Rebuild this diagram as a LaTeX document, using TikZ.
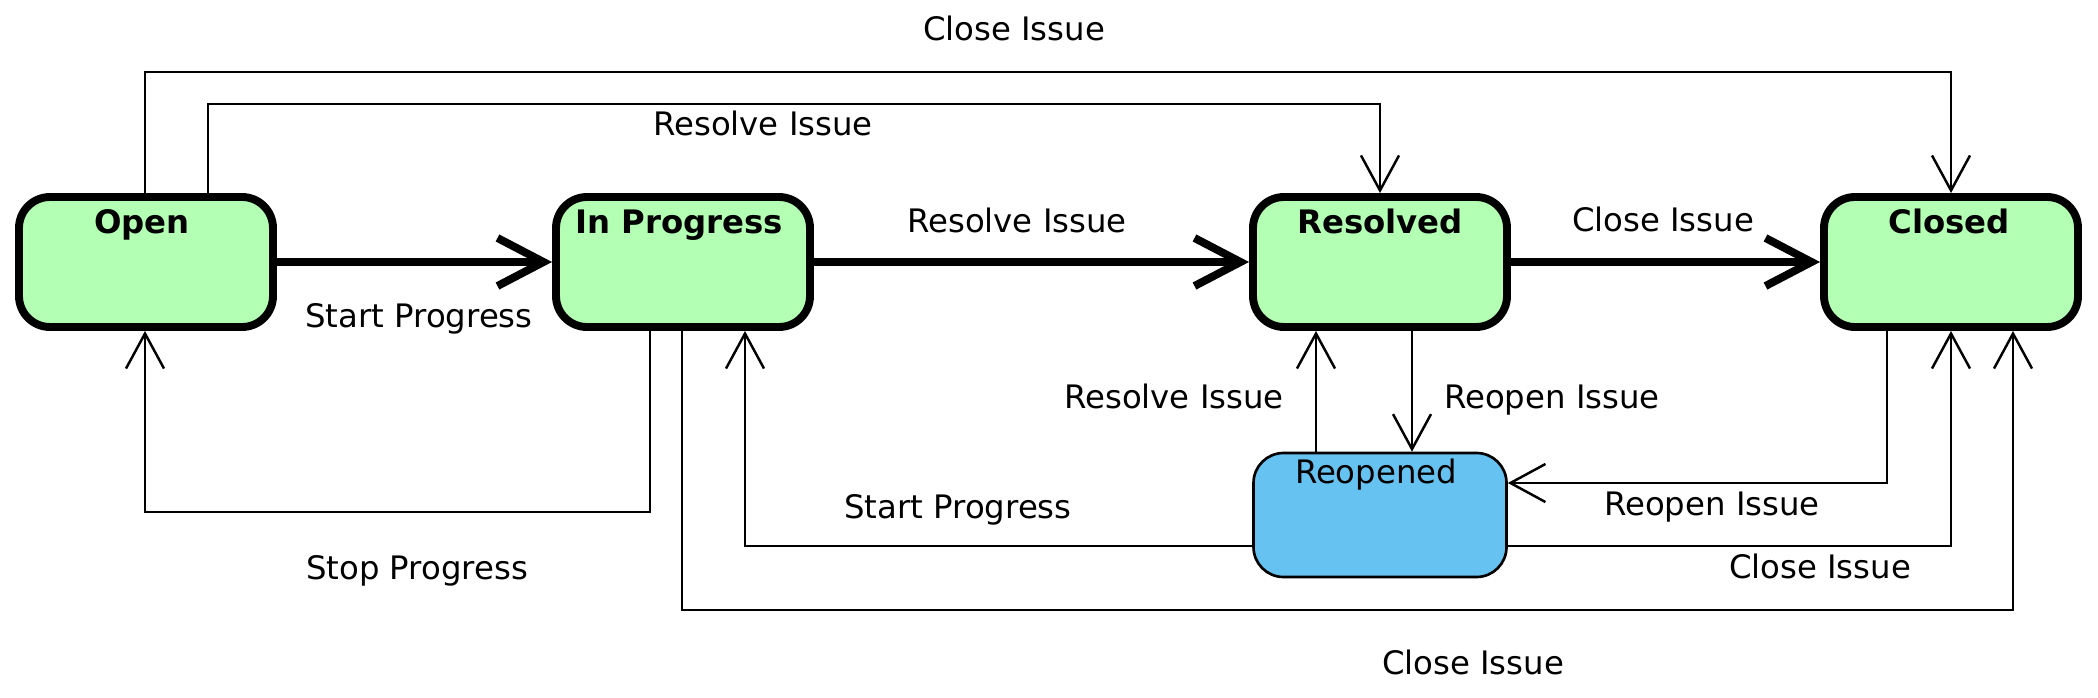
\documentclass[tikz,border=0pt]{standalone}
\usepackage{fontspec}
\setmainfont{DejaVu Sans}
\usetikzlibrary{arrows.meta}
\definecolor{stategreen}{RGB}{179,255,179}
\definecolor{stateblue}{RGB}{102,194,240}
\begin{document}
\begin{tikzpicture}[x=0.2mm,y=-0.2mm,
  font=\fontsize{18.4}{22}\selectfont,
  greenstate/.style={draw=black, line width=4.5pt, fill=stategreen, rounded corners=6.2mm, minimum width=50.8mm, minimum height=26mm, inner sep=0pt},
  bluestate/.style={draw=black, line width=1.5pt, fill=stateblue, rounded corners=6mm, minimum width=50.6mm, minimum height=24.8mm, inner sep=0pt},
  statetitle/.style={anchor=base, font=\fontsize{18.4}{22}\selectfont\bfseries, inner sep=0pt},
  lbl/.style={anchor=base, inner sep=0pt},
  conn/.style={draw=black, line width=1.4pt, -{Straight Barb[length=7mm,width=7.6mm]}},
  mainconn/.style={draw=black, line width=4.5pt, -{Straight Barb[length=9.2mm,width=9.6mm]}},
]
\useasboundingbox (0,0) rectangle (2098,698);

% states
\node[greenstate] (open) at (146,262) {};
\node[greenstate] (prog) at (683,262) {};
\node[greenstate] (resolved) at (1380,262) {};
\node[greenstate] (closed) at (1951,262) {};
\node[bluestate] (reopened) at (1380,515) {};

\node[statetitle] (openT) at (142,233) {Open};
\node[statetitle] (progT) at (679,233) {In Progress};
\node[statetitle] (resolvedT) at (1380,233) {Resolved};
\node[statetitle] (closedT) at (1949,233) {Closed};
\node[lbl] (reopenedT) at (1376,483) {Reopened};

% main flow
\draw[mainconn] (open) -- (prog);
\draw[mainconn] (prog) -- (resolved);
\draw[mainconn] (resolved) -- (closed);

% other transitions
\draw[conn] (open.north -| 145,0) -- (145,72) -| (closed.north);
\draw[conn] (open.north -| 208,0) -- (208,104) -| (resolved.north);
\draw[conn] (prog.south -| 650,0) -- (650,512) -| (open.south -| 145,0);
\draw[conn] (prog.south -| 682,0) -- (682,610) -| (closed.south -| 2013,0);
\draw[conn] (reopened.west |- 0,546) -| (prog.south -| 745,0);
\draw[conn] (reopened.north -| 1316,0) -- (resolved.south -| 1316,0);
\draw[conn] (resolved.south -| 1412,0) -- (reopened.north -| 1412,0);
\draw[conn] (closed.south -| 1887,0) |- (reopened.east |- 0,483);
\draw[conn] (reopened.east |- 0,546) -| (closed.south);

% labels
\node[lbl] (l1) at (1014,40) {Close Issue};
\node[lbl] (l2) at (763,135) {Resolve Issue};
\node[lbl] (l3) at (419,327) {Start Progress};
\node[lbl] (l4) at (1017,232) {Resolve Issue};
\node[lbl] (l5) at (1663,231) {Close Issue};
\node[lbl] (l6) at (1174,408) {Resolve Issue};
\node[lbl] (l7) at (1552,408) {Reopen Issue};
\node[lbl] (l8) at (1712,515) {Reopen Issue};
\node[lbl] (l9) at (958,518) {Start Progress};
\node[lbl] (l10) at (1820,578) {Close Issue};
\node[lbl] (l11) at (417,579) {Stop Progress};
\node[lbl] (l12) at (1473,674) {Close Issue};
\end{tikzpicture}
\end{document}
